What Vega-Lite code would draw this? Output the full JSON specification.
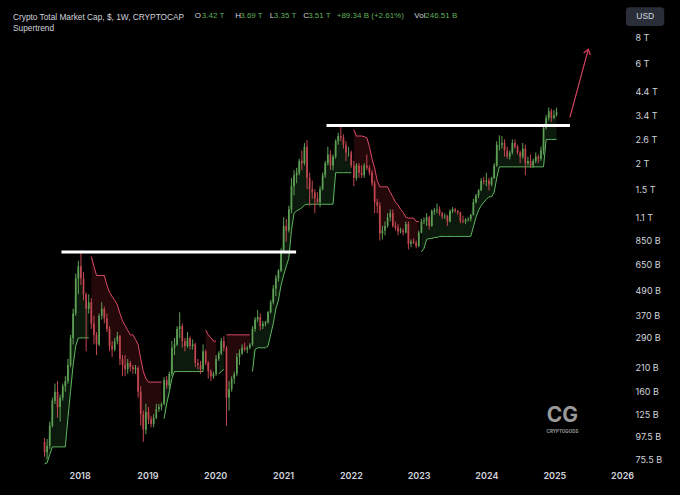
{
  "$schema": "https://vega.github.io/schema/vega-lite/v6.json",
  "width": 628,
  "height": 432,
  "autosize": {"type": "none"},
  "padding": {"left": 0, "top": 35, "right": 52, "bottom": 28},
  "background": "#000000",
  "title": {
    "text": "Crypto Total Market Cap, $, 1W, CRYPTOCAP",
    "subtitle": "Supertrend",
    "anchor": "start",
    "frame": "group",
    "dx": 13,
    "offset": -25,
    "font": "Liberation Sans",
    "fontSize": 8.3,
    "fontWeight": "normal",
    "color": "#d1d4dc",
    "subtitleFont": "Liberation Sans",
    "subtitleFontSize": 8.3,
    "subtitleColor": "#d1d4dc",
    "subtitlePadding": 2.5
  },
  "config": {"view": {"stroke": null}},
  "datasets": {
    "candles": [
      {"d":"2017-06-26","o":92,"h":96,"l":78,"c":82,"st":72,"seg":1,"dir":"up"},
      {"d":"2017-07-10","o":82,"h":95,"l":76,"c":88,"st":73,"seg":1,"dir":"up"},
      {"d":"2017-07-24","o":88,"h":115,"l":85,"c":110,"st":80,"seg":1,"dir":"up"},
      {"d":"2017-08-07","o":110,"h":150,"l":108,"c":145,"st":87,"seg":1,"dir":"up"},
      {"d":"2017-08-21","o":145,"h":175,"l":140,"c":160,"st":87,"seg":1,"dir":"up"},
      {"d":"2017-09-04","o":160,"h":180,"l":120,"c":135,"st":87,"seg":1,"dir":"up"},
      {"d":"2017-09-18","o":135,"h":155,"l":115,"c":150,"st":87,"seg":1,"dir":"up"},
      {"d":"2017-10-02","o":150,"h":175,"l":145,"c":170,"st":87,"seg":1,"dir":"up"},
      {"d":"2017-10-16","o":170,"h":190,"l":160,"c":180,"st":87,"seg":1,"dir":"up"},
      {"d":"2017-10-30","o":180,"h":230,"l":175,"c":215,"st":120,"seg":1,"dir":"up"},
      {"d":"2017-11-13","o":215,"h":300,"l":210,"c":290,"st":160,"seg":1,"dir":"up"},
      {"d":"2017-11-27","o":290,"h":400,"l":270,"c":380,"st":215,"seg":1,"dir":"up"},
      {"d":"2017-12-11","o":380,"h":590,"l":370,"c":560,"st":265,"seg":1,"dir":"up"},
      {"d":"2017-12-25","o":560,"h":680,"l":470,"c":640,"st":290,"seg":1,"dir":"up"},
      {"d":"2018-01-08","o":640,"h":760,"l":520,"c":560,"st":290,"seg":1,"dir":"up"},
      {"d":"2018-01-22","o":560,"h":600,"l":440,"c":470,"st":290,"seg":1,"dir":"up"},
      {"d":"2018-02-05","o":470,"h":480,"l":250,"c":400,"st":290,"seg":1,"dir":"up"},
      {"d":"2018-02-19","o":400,"h":470,"l":380,"c":430,"st":290,"seg":1,"dir":"up"},
      {"d":"2018-03-05","o":430,"h":450,"l":320,"c":340,"st":713,"seg":2,"dir":"down"},
      {"d":"2018-03-19","o":340,"h":370,"l":270,"c":300,"st":640,"seg":2,"dir":"down"},
      {"d":"2018-04-02","o":300,"h":310,"l":240,"c":270,"st":578,"seg":2,"dir":"down"},
      {"d":"2018-04-16","o":270,"h":380,"l":265,"c":370,"st":578,"seg":2,"dir":"down"},
      {"d":"2018-04-30","o":370,"h":430,"l":355,"c":400,"st":578,"seg":2,"dir":"down"},
      {"d":"2018-05-14","o":400,"h":410,"l":340,"c":360,"st":578,"seg":2,"dir":"down"},
      {"d":"2018-05-28","o":360,"h":380,"l":310,"c":320,"st":520,"seg":2,"dir":"down"},
      {"d":"2018-06-11","o":320,"h":330,"l":250,"c":265,"st":480,"seg":2,"dir":"down"},
      {"d":"2018-06-25","o":265,"h":280,"l":235,"c":255,"st":458,"seg":2,"dir":"down"},
      {"d":"2018-07-09","o":255,"h":290,"l":250,"c":280,"st":440,"seg":2,"dir":"down"},
      {"d":"2018-07-23","o":280,"h":310,"l":270,"c":295,"st":418,"seg":2,"dir":"down"},
      {"d":"2018-08-06","o":295,"h":300,"l":215,"c":230,"st":380,"seg":2,"dir":"down"},
      {"d":"2018-08-20","o":230,"h":240,"l":190,"c":215,"st":350,"seg":2,"dir":"down"},
      {"d":"2018-09-03","o":215,"h":240,"l":190,"c":205,"st":333,"seg":2,"dir":"down"},
      {"d":"2018-09-17","o":205,"h":230,"l":195,"c":220,"st":315,"seg":2,"dir":"down"},
      {"d":"2018-10-01","o":220,"h":225,"l":200,"c":210,"st":300,"seg":2,"dir":"down"},
      {"d":"2018-10-15","o":210,"h":215,"l":195,"c":205,"st":300,"seg":2,"dir":"down"},
      {"d":"2018-10-29","o":205,"h":215,"l":195,"c":208,"st":285,"seg":2,"dir":"down"},
      {"d":"2018-11-12","o":208,"h":212,"l":150,"c":160,"st":270,"seg":2,"dir":"down"},
      {"d":"2018-11-26","o":160,"h":170,"l":110,"c":125,"st":230,"seg":2,"dir":"down"},
      {"d":"2018-12-10","o":125,"h":130,"l":92,"c":105,"st":200,"seg":2,"dir":"down"},
      {"d":"2018-12-24","o":105,"h":140,"l":100,"c":128,"st":185,"seg":2,"dir":"down"},
      {"d":"2019-01-07","o":128,"h":135,"l":112,"c":118,"st":178,"seg":2,"dir":"down"},
      {"d":"2019-01-21","o":118,"h":122,"l":108,"c":112,"st":178,"seg":2,"dir":"down"},
      {"d":"2019-02-04","o":112,"h":125,"l":108,"c":120,"st":178,"seg":2,"dir":"down"},
      {"d":"2019-02-18","o":120,"h":140,"l":118,"c":132,"st":178,"seg":2,"dir":"down"},
      {"d":"2019-03-04","o":132,"h":140,"l":128,"c":135,"st":178,"seg":2,"dir":"down"},
      {"d":"2019-03-18","o":135,"h":142,"l":130,"c":140,"st":178,"seg":2,"dir":"down"},
      {"d":"2019-04-01","o":140,"h":188,"l":138,"c":182,"st":119,"seg":3,"dir":"up"},
      {"d":"2019-04-15","o":182,"h":190,"l":165,"c":172,"st":140,"seg":3,"dir":"up"},
      {"d":"2019-04-29","o":172,"h":200,"l":165,"c":195,"st":160,"seg":3,"dir":"up"},
      {"d":"2019-05-13","o":195,"h":280,"l":190,"c":260,"st":185,"seg":3,"dir":"up"},
      {"d":"2019-05-27","o":260,"h":290,"l":240,"c":270,"st":200,"seg":3,"dir":"up"},
      {"d":"2019-06-10","o":270,"h":330,"l":265,"c":320,"st":200,"seg":3,"dir":"up"},
      {"d":"2019-06-24","o":320,"h":385,"l":290,"c":330,"st":200,"seg":3,"dir":"up"},
      {"d":"2019-07-08","o":330,"h":340,"l":260,"c":280,"st":200,"seg":3,"dir":"up"},
      {"d":"2019-07-22","o":280,"h":290,"l":250,"c":265,"st":200,"seg":3,"dir":"up"},
      {"d":"2019-08-05","o":265,"h":310,"l":260,"c":290,"st":200,"seg":3,"dir":"up"},
      {"d":"2019-08-19","o":290,"h":295,"l":255,"c":265,"st":200,"seg":3,"dir":"up"},
      {"d":"2019-09-02","o":265,"h":285,"l":255,"c":270,"st":200,"seg":3,"dir":"up"},
      {"d":"2019-09-16","o":270,"h":275,"l":210,"c":220,"st":200,"seg":3,"dir":"up"},
      {"d":"2019-09-30","o":220,"h":230,"l":205,"c":215,"st":200,"seg":3,"dir":"up"},
      {"d":"2019-10-14","o":215,"h":225,"l":195,"c":205,"st":200,"seg":3,"dir":"up"},
      {"d":"2019-10-28","o":205,"h":270,"l":200,"c":250,"st":200,"seg":3,"dir":"up"},
      {"d":"2019-11-11","o":250,"h":255,"l":215,"c":220,"st":316,"seg":4,"dir":"down"},
      {"d":"2019-11-25","o":220,"h":225,"l":185,"c":200,"st":300,"seg":4,"dir":"down"},
      {"d":"2019-12-09","o":200,"h":205,"l":180,"c":190,"st":290,"seg":4,"dir":"down"},
      {"d":"2019-12-23","o":190,"h":200,"l":185,"c":195,"st":280,"seg":4,"dir":"down"},
      {"d":"2020-01-06","o":195,"h":240,"l":190,"c":230,"st":280,"seg":4,"dir":"down"},
      {"d":"2020-01-20","o":230,"h":250,"l":225,"c":245,"st":195,"seg":5,"dir":"up"},
      {"d":"2020-02-03","o":245,"h":290,"l":240,"c":280,"st":200,"seg":5,"dir":"up"},
      {"d":"2020-02-17","o":280,"h":295,"l":250,"c":260,"st":205,"seg":5,"dir":"up"},
      {"d":"2020-03-02","o":260,"h":265,"l":110,"c":150,"st":300,"seg":6,"dir":"down"},
      {"d":"2020-03-16","o":150,"h":180,"l":130,"c":165,"st":300,"seg":6,"dir":"down"},
      {"d":"2020-03-30","o":165,"h":190,"l":160,"c":185,"st":300,"seg":6,"dir":"down"},
      {"d":"2020-04-13","o":185,"h":200,"l":175,"c":195,"st":300,"seg":6,"dir":"down"},
      {"d":"2020-04-27","o":195,"h":245,"l":190,"c":235,"st":300,"seg":6,"dir":"down"},
      {"d":"2020-05-11","o":235,"h":255,"l":215,"c":245,"st":300,"seg":6,"dir":"down"},
      {"d":"2020-05-25","o":245,"h":270,"l":240,"c":260,"st":300,"seg":6,"dir":"down"},
      {"d":"2020-06-08","o":260,"h":275,"l":250,"c":255,"st":300,"seg":6,"dir":"down"},
      {"d":"2020-06-22","o":255,"h":265,"l":245,"c":260,"st":300,"seg":6,"dir":"down"},
      {"d":"2020-07-06","o":260,"h":275,"l":255,"c":270,"st":300,"seg":6,"dir":"down"},
      {"d":"2020-07-20","o":270,"h":330,"l":265,"c":320,"st":200,"seg":7,"dir":"up"},
      {"d":"2020-08-03","o":320,"h":365,"l":310,"c":355,"st":255,"seg":7,"dir":"up"},
      {"d":"2020-08-17","o":355,"h":395,"l":345,"c":365,"st":260,"seg":7,"dir":"up"},
      {"d":"2020-08-31","o":365,"h":380,"l":315,"c":330,"st":260,"seg":7,"dir":"up"},
      {"d":"2020-09-14","o":330,"h":350,"l":320,"c":340,"st":260,"seg":7,"dir":"up"},
      {"d":"2020-09-28","o":340,"h":350,"l":330,"c":345,"st":260,"seg":7,"dir":"up"},
      {"d":"2020-10-12","o":345,"h":390,"l":340,"c":385,"st":265,"seg":7,"dir":"up"},
      {"d":"2020-10-26","o":385,"h":440,"l":380,"c":430,"st":300,"seg":7,"dir":"up"},
      {"d":"2020-11-09","o":430,"h":520,"l":420,"c":500,"st":340,"seg":7,"dir":"up"},
      {"d":"2020-11-23","o":500,"h":580,"l":460,"c":560,"st":400,"seg":7,"dir":"up"},
      {"d":"2020-12-07","o":560,"h":620,"l":540,"c":610,"st":440,"seg":7,"dir":"up"},
      {"d":"2020-12-21","o":610,"h":780,"l":600,"c":760,"st":520,"seg":7,"dir":"up"},
      {"d":"2021-01-04","o":760,"h":1100,"l":740,"c":1000,"st":580,"seg":7,"dir":"up"},
      {"d":"2021-01-18","o":1000,"h":1080,"l":840,"c":950,"st":640,"seg":7,"dir":"up"},
      {"d":"2021-02-01","o":950,"h":1250,"l":930,"c":1200,"st":700,"seg":7,"dir":"up"},
      {"d":"2021-02-15","o":1200,"h":1700,"l":1150,"c":1550,"st":950,"seg":7,"dir":"up"},
      {"d":"2021-03-01","o":1550,"h":1850,"l":1400,"c":1750,"st":1150,"seg":7,"dir":"up"},
      {"d":"2021-03-15","o":1750,"h":1900,"l":1600,"c":1800,"st":1180,"seg":7,"dir":"up"},
      {"d":"2021-03-29","o":1800,"h":2100,"l":1750,"c":2050,"st":1200,"seg":7,"dir":"up"},
      {"d":"2021-04-12","o":2050,"h":2300,"l":1850,"c":2000,"st":1220,"seg":7,"dir":"up"},
      {"d":"2021-04-26","o":2000,"h":2500,"l":1950,"c":2400,"st":1260,"seg":7,"dir":"up"},
      {"d":"2021-05-10","o":2400,"h":2580,"l":1500,"c":1700,"st":1270,"seg":7,"dir":"up"},
      {"d":"2021-05-24","o":1700,"h":1800,"l":1250,"c":1500,"st":1270,"seg":7,"dir":"up"},
      {"d":"2021-06-07","o":1500,"h":1650,"l":1350,"c":1450,"st":1270,"seg":7,"dir":"up"},
      {"d":"2021-06-21","o":1450,"h":1500,"l":1150,"c":1350,"st":1270,"seg":7,"dir":"up"},
      {"d":"2021-07-05","o":1350,"h":1450,"l":1280,"c":1300,"st":1270,"seg":7,"dir":"up"},
      {"d":"2021-07-19","o":1300,"h":1550,"l":1230,"c":1500,"st":1270,"seg":7,"dir":"up"},
      {"d":"2021-08-02","o":1500,"h":1800,"l":1480,"c":1750,"st":1270,"seg":7,"dir":"up"},
      {"d":"2021-08-16","o":1750,"h":2050,"l":1700,"c":2000,"st":1270,"seg":7,"dir":"up"},
      {"d":"2021-08-30","o":2000,"h":2400,"l":1950,"c":2200,"st":1270,"seg":7,"dir":"up"},
      {"d":"2021-09-13","o":2200,"h":2300,"l":1850,"c":1950,"st":1270,"seg":7,"dir":"up"},
      {"d":"2021-09-27","o":1950,"h":2200,"l":1850,"c":2150,"st":1270,"seg":7,"dir":"up"},
      {"d":"2021-10-11","o":2150,"h":2600,"l":2100,"c":2550,"st":1800,"seg":7,"dir":"up"},
      {"d":"2021-10-25","o":2550,"h":2800,"l":2450,"c":2700,"st":1800,"seg":7,"dir":"up"},
      {"d":"2021-11-08","o":2700,"h":3030,"l":2550,"c":2650,"st":1800,"seg":7,"dir":"up"},
      {"d":"2021-11-22","o":2650,"h":2750,"l":2350,"c":2450,"st":1800,"seg":7,"dir":"up"},
      {"d":"2021-12-06","o":2450,"h":2550,"l":2050,"c":2250,"st":1800,"seg":7,"dir":"up"},
      {"d":"2021-12-20","o":2250,"h":2400,"l":2150,"c":2250,"st":1800,"seg":7,"dir":"up"},
      {"d":"2022-01-03","o":2250,"h":2300,"l":1900,"c":1950,"st":1800,"seg":7,"dir":"up"},
      {"d":"2022-01-17","o":1950,"h":2050,"l":1550,"c":1700,"st":2900,"seg":8,"dir":"down"},
      {"d":"2022-01-31","o":1700,"h":2000,"l":1650,"c":1950,"st":2700,"seg":8,"dir":"down"},
      {"d":"2022-02-14","o":1950,"h":2000,"l":1700,"c":1800,"st":2700,"seg":8,"dir":"down"},
      {"d":"2022-02-28","o":1800,"h":1950,"l":1700,"c":1750,"st":2700,"seg":8,"dir":"down"},
      {"d":"2022-03-14","o":1750,"h":2000,"l":1700,"c":1950,"st":2680,"seg":8,"dir":"down"},
      {"d":"2022-03-28","o":1950,"h":2200,"l":1850,"c":1900,"st":2650,"seg":8,"dir":"down"},
      {"d":"2022-04-11","o":1900,"h":1950,"l":1750,"c":1800,"st":2400,"seg":8,"dir":"down"},
      {"d":"2022-04-25","o":1800,"h":1850,"l":1550,"c":1600,"st":2100,"seg":8,"dir":"down"},
      {"d":"2022-05-09","o":1600,"h":1650,"l":1150,"c":1300,"st":1900,"seg":8,"dir":"down"},
      {"d":"2022-05-23","o":1300,"h":1350,"l":1150,"c":1250,"st":1650,"seg":8,"dir":"down"},
      {"d":"2022-06-06","o":1250,"h":1300,"l":850,"c":920,"st":1540,"seg":8,"dir":"down"},
      {"d":"2022-06-20","o":920,"h":1000,"l":860,"c":950,"st":1540,"seg":8,"dir":"down"},
      {"d":"2022-07-04","o":950,"h":1050,"l":900,"c":1000,"st":1540,"seg":8,"dir":"down"},
      {"d":"2022-07-18","o":1000,"h":1150,"l":980,"c":1100,"st":1540,"seg":8,"dir":"down"},
      {"d":"2022-08-01","o":1100,"h":1200,"l":1050,"c":1150,"st":1450,"seg":8,"dir":"down"},
      {"d":"2022-08-15","o":1150,"h":1200,"l":980,"c":1000,"st":1380,"seg":8,"dir":"down"},
      {"d":"2022-08-29","o":1000,"h":1050,"l":950,"c":980,"st":1300,"seg":8,"dir":"down"},
      {"d":"2022-09-12","o":980,"h":1020,"l":900,"c":940,"st":1260,"seg":8,"dir":"down"},
      {"d":"2022-09-26","o":940,"h":980,"l":920,"c":950,"st":1200,"seg":8,"dir":"down"},
      {"d":"2022-10-10","o":950,"h":970,"l":900,"c":930,"st":1160,"seg":8,"dir":"down"},
      {"d":"2022-10-24","o":930,"h":1050,"l":920,"c":1020,"st":1100,"seg":8,"dir":"down"},
      {"d":"2022-11-07","o":1020,"h":1050,"l":770,"c":820,"st":1090,"seg":8,"dir":"down"},
      {"d":"2022-11-21","o":820,"h":860,"l":790,"c":840,"st":1090,"seg":8,"dir":"down"},
      {"d":"2022-12-05","o":840,"h":870,"l":820,"c":830,"st":1090,"seg":8,"dir":"down"},
      {"d":"2022-12-19","o":830,"h":850,"l":780,"c":800,"st":1050,"seg":8,"dir":"down"},
      {"d":"2023-01-02","o":800,"h":950,"l":790,"c":930,"st":1050,"seg":8,"dir":"down"},
      {"d":"2023-01-16","o":930,"h":1080,"l":920,"c":1050,"st":750,"seg":9,"dir":"up"},
      {"d":"2023-01-30","o":1050,"h":1100,"l":1020,"c":1060,"st":780,"seg":9,"dir":"up"},
      {"d":"2023-02-13","o":1060,"h":1150,"l":1000,"c":1100,"st":860,"seg":9,"dir":"up"},
      {"d":"2023-02-27","o":1100,"h":1120,"l":960,"c":1000,"st":870,"seg":9,"dir":"up"},
      {"d":"2023-03-13","o":1000,"h":1200,"l":990,"c":1180,"st":870,"seg":9,"dir":"up"},
      {"d":"2023-03-27","o":1180,"h":1220,"l":1130,"c":1190,"st":880,"seg":9,"dir":"up"},
      {"d":"2023-04-10","o":1190,"h":1280,"l":1150,"c":1200,"st":880,"seg":9,"dir":"up"},
      {"d":"2023-04-24","o":1200,"h":1240,"l":1120,"c":1150,"st":890,"seg":9,"dir":"up"},
      {"d":"2023-05-08","o":1150,"h":1170,"l":1080,"c":1110,"st":890,"seg":9,"dir":"up"},
      {"d":"2023-05-22","o":1110,"h":1150,"l":1080,"c":1120,"st":890,"seg":9,"dir":"up"},
      {"d":"2023-06-05","o":1120,"h":1130,"l":1000,"c":1050,"st":890,"seg":9,"dir":"up"},
      {"d":"2023-06-19","o":1050,"h":1200,"l":1040,"c":1180,"st":890,"seg":9,"dir":"up"},
      {"d":"2023-07-03","o":1180,"h":1230,"l":1150,"c":1200,"st":890,"seg":9,"dir":"up"},
      {"d":"2023-07-17","o":1200,"h":1220,"l":1160,"c":1180,"st":890,"seg":9,"dir":"up"},
      {"d":"2023-07-31","o":1180,"h":1190,"l":1130,"c":1160,"st":890,"seg":9,"dir":"up"},
      {"d":"2023-08-14","o":1160,"h":1170,"l":1030,"c":1060,"st":890,"seg":9,"dir":"up"},
      {"d":"2023-08-28","o":1060,"h":1120,"l":1030,"c":1050,"st":890,"seg":9,"dir":"up"},
      {"d":"2023-09-11","o":1050,"h":1090,"l":1020,"c":1070,"st":890,"seg":9,"dir":"up"},
      {"d":"2023-09-25","o":1070,"h":1100,"l":1050,"c":1080,"st":890,"seg":9,"dir":"up"},
      {"d":"2023-10-09","o":1080,"h":1140,"l":1050,"c":1130,"st":890,"seg":9,"dir":"up"},
      {"d":"2023-10-23","o":1130,"h":1350,"l":1120,"c":1300,"st":990,"seg":9,"dir":"up"},
      {"d":"2023-11-06","o":1300,"h":1420,"l":1280,"c":1400,"st":1100,"seg":9,"dir":"up"},
      {"d":"2023-11-20","o":1400,"h":1500,"l":1360,"c":1480,"st":1190,"seg":9,"dir":"up"},
      {"d":"2023-12-04","o":1480,"h":1700,"l":1470,"c":1650,"st":1250,"seg":9,"dir":"up"},
      {"d":"2023-12-18","o":1650,"h":1720,"l":1580,"c":1630,"st":1300,"seg":9,"dir":"up"},
      {"d":"2024-01-01","o":1630,"h":1800,"l":1550,"c":1650,"st":1340,"seg":9,"dir":"up"},
      {"d":"2024-01-15","o":1650,"h":1700,"l":1480,"c":1580,"st":1380,"seg":9,"dir":"up"},
      {"d":"2024-01-29","o":1580,"h":1720,"l":1550,"c":1700,"st":1380,"seg":9,"dir":"up"},
      {"d":"2024-02-12","o":1700,"h":2000,"l":1680,"c":1950,"st":1450,"seg":9,"dir":"up"},
      {"d":"2024-02-26","o":1950,"h":2550,"l":1920,"c":2450,"st":1700,"seg":9,"dir":"up"},
      {"d":"2024-03-11","o":2450,"h":2720,"l":2300,"c":2450,"st":1920,"seg":9,"dir":"up"},
      {"d":"2024-03-25","o":2450,"h":2700,"l":2350,"c":2500,"st":1920,"seg":9,"dir":"up"},
      {"d":"2024-04-08","o":2500,"h":2600,"l":2150,"c":2300,"st":1920,"seg":9,"dir":"up"},
      {"d":"2024-04-22","o":2300,"h":2400,"l":2100,"c":2150,"st":1920,"seg":9,"dir":"up"},
      {"d":"2024-05-06","o":2150,"h":2300,"l":2080,"c":2250,"st":1920,"seg":9,"dir":"up"},
      {"d":"2024-05-20","o":2250,"h":2600,"l":2200,"c":2500,"st":1920,"seg":9,"dir":"up"},
      {"d":"2024-06-03","o":2500,"h":2600,"l":2350,"c":2400,"st":1920,"seg":9,"dir":"up"},
      {"d":"2024-06-17","o":2400,"h":2450,"l":2200,"c":2250,"st":1920,"seg":9,"dir":"up"},
      {"d":"2024-07-01","o":2250,"h":2300,"l":2000,"c":2150,"st":1920,"seg":9,"dir":"up"},
      {"d":"2024-07-15","o":2150,"h":2500,"l":2100,"c":2350,"st":1920,"seg":9,"dir":"up"},
      {"d":"2024-07-29","o":2350,"h":2450,"l":1750,"c":2000,"st":1920,"seg":9,"dir":"up"},
      {"d":"2024-08-12","o":2000,"h":2150,"l":1950,"c":2050,"st":1920,"seg":9,"dir":"up"},
      {"d":"2024-08-26","o":2050,"h":2200,"l":1900,"c":1950,"st":1920,"seg":9,"dir":"up"},
      {"d":"2024-09-09","o":1950,"h":2100,"l":1900,"c":2050,"st":1920,"seg":9,"dir":"up"},
      {"d":"2024-09-23","o":2050,"h":2250,"l":2000,"c":2150,"st":1920,"seg":9,"dir":"up"},
      {"d":"2024-10-07","o":2150,"h":2200,"l":2000,"c":2100,"st":1920,"seg":9,"dir":"up"},
      {"d":"2024-10-21","o":2100,"h":2400,"l":2050,"c":2300,"st":1920,"seg":9,"dir":"up"},
      {"d":"2024-11-04","o":2300,"h":3000,"l":2200,"c":2950,"st":1920,"seg":9,"dir":"up"},
      {"d":"2024-11-18","o":2950,"h":3400,"l":2900,"c":3300,"st":2600,"seg":9,"dir":"up"},
      {"d":"2024-12-02","o":3300,"h":3700,"l":3200,"c":3550,"st":2600,"seg":9,"dir":"up"},
      {"d":"2024-12-16","o":3550,"h":3650,"l":3150,"c":3300,"st":2600,"seg":9,"dir":"up"},
      {"d":"2024-12-30","o":3300,"h":3600,"l":3250,"c":3400,"st":2600,"seg":9,"dir":"up"},
      {"d":"2025-01-13","o":3420,"h":3690,"l":3350,"c":3510,"st":2600,"seg":9,"dir":"up"}
    ],
    "levels": [
      {"start":"2017-09-25","end":"2021-03-12","v":749},
      {"start":"2021-08-23","end":"2025-03-26","v":3032}
    ],
    "arrow": [
      {"d":"2025-03-26","v":3320,"part":"shaft","k":0},
      {"d":"2025-07-03","v":7038,"part":"shaft","k":1},
      {"d":"2025-06-08","v":6749,"part":"head","k":0},
      {"d":"2025-07-03","v":7038,"part":"head","k":1},
      {"d":"2025-07-14","v":6608,"part":"head","k":2}
    ]
  },
  "data": {"name": "candles"},
  "layer": [
    {
      "mark": {"type": "area", "opacity": 0.15},
      "encoding": {
        "x": {
          "field": "d", "type": "temporal", "title": null,
          "scale": {"type": "utc", "domain": [{"year": 2016, "month": 11, "date": 25, "utc": true}, {"year": 2026, "month": 1, "date": 6, "utc": true}]},
          "axis": {
            "orient": "bottom", "grid": false, "ticks": false, "domain": false,
            "tickCount": {"interval": "year", "step": 1},
            "labelExpr": "utcyear(datum.value) < 2018 ? '' : utcFormat(datum.value, '%Y')",
            "labelColor": "#d1d4dc", "labelFont": "Inter", "labelFontSize": 9, "labelFontWeight": 600,
            "labelPadding": 4, "labelFlush": false, "labelOverlap": false
          }
        },
        "y": {
          "field": "st", "type": "quantitative", "title": null,
          "scale": {"type": "log", "domain": [69.66, 8242], "nice": false},
          "axis": {
            "orient": "right", "grid": false, "ticks": false, "domain": false,
            "values": [75.5, 97.5, 125, 160, 210, 290, 370, 490, 650, 850, 1100, 1500, 2000, 2600, 3400, 4400, 6000, 8000],
            "labelExpr": "datum.value >= 1000 ? (datum.value / 1000) + ' T' : datum.value + ' B'",
            "labelColor": "#d1d4dc", "labelFont": "Inter", "labelFontSize": 9,
            "labelPadding": 7, "labelAlign": "left", "labelBaseline": "middle"
          }
        },
        "y2": {"field": "c"},
        "detail": {"field": "seg", "type": "nominal"},
        "color": {"condition": {"test": "datum.dir == 'up'", "value": "#4caf50"}, "value": "#f23645"}
      }
    },
    {
      "mark": {"type": "line", "strokeWidth": 1},
      "encoding": {
        "x": {"field": "d", "type": "temporal", "title": null},
        "y": {"field": "st", "type": "quantitative", "title": null, "scale": {"type": "log"}},
        "detail": {"field": "seg", "type": "nominal"},
        "color": {"condition": {"test": "datum.dir == 'up'", "value": "#5fb65f"}, "value": "#dd4a66"}
      }
    },
    {
      "mark": {"type": "rule", "strokeWidth": 1},
      "encoding": {
        "x": {"field": "d", "type": "temporal", "title": null},
        "y": {"field": "l", "type": "quantitative", "title": null, "scale": {"type": "log"}},
        "y2": {"field": "h"},
        "color": {"condition": {"test": "datum.c >= datum.o", "value": "#5e9f55"}, "value": "#c0474f"}
      }
    },
    {
      "mark": {"type": "bar", "width": 1.7},
      "encoding": {
        "x": {"field": "d", "type": "temporal", "title": null},
        "y": {"field": "o", "type": "quantitative", "title": null, "scale": {"type": "log"}},
        "y2": {"field": "c"},
        "color": {"condition": {"test": "datum.c >= datum.o", "value": "#5e9f55"}, "value": "#c0474f"}
      }
    },
    {
      "data": {"name": "levels"},
      "mark": {"type": "rule", "strokeWidth": 3, "color": "#ffffff"},
      "encoding": {
        "x": {"field": "start", "type": "temporal", "title": null},
        "x2": {"field": "end"},
        "y": {"field": "v", "type": "quantitative", "title": null, "scale": {"type": "log"}}
      }
    },
    {
      "data": {"name": "arrow"},
      "mark": {"type": "line", "strokeWidth": 1.2, "color": "#d6415e"},
      "encoding": {
        "x": {"field": "d", "type": "temporal", "title": null},
        "y": {"field": "v", "type": "quantitative", "title": null, "scale": {"type": "log"}},
        "detail": {"field": "part", "type": "nominal"},
        "order": {"field": "k", "type": "quantitative"}
      }
    },
    {
      "data": {"values": [{}]},
      "mark": {"type": "text", "text": "CG", "font": "Inter", "fontSize": 21, "fontWeight": "bold", "color": "#9a9a9a", "align": "center", "baseline": "middle"},
      "encoding": {
        "x": {"datum": {"year": 2025, "month": 2, "date": 14, "utc": true}, "type": "temporal"},
        "y": {"datum": 123, "type": "quantitative"}
      }
    },
    {
      "data": {"values": [{}]},
      "mark": {"type": "text", "text": "CRYPTOGODS", "font": "Inter", "fontSize": 4.5, "fontWeight": "bold", "color": "#9a9a9a", "align": "center", "baseline": "middle"},
      "encoding": {
        "x": {"datum": {"year": 2025, "month": 2, "date": 14, "utc": true}, "type": "temporal"},
        "y": {"datum": 102.8, "type": "quantitative"}
      }
    },
    {
      "data": {"values": [{}]},
      "mark": {"type": "rect", "color": "#2a2e39", "cornerRadius": 3},
      "encoding": {
        "x": {"datum": {"year": 2026, "month": 1, "date": 22, "utc": true}, "type": "temporal"},
        "x2": {"datum": {"year": 2026, "month": 8, "date": 16, "utc": true}},
        "y": {"datum": 11194, "type": "quantitative"},
        "y2": {"datum": 9104}
      }
    },
    {
      "data": {"values": [{}]},
      "mark": {"type": "text", "text": "USD", "font": "Liberation Sans", "fontSize": 8.5, "color": "#d1d4dc", "align": "center", "baseline": "middle"},
      "encoding": {
        "x": {"datum": {"year": 2026, "month": 5, "date": 6, "utc": true}, "type": "temporal"},
        "y": {"datum": 10112, "type": "quantitative"}
      }
    },
    {
      "data": {"values": [{}]},
      "mark": {"type": "text", "text": "O", "font": "Liberation Sans", "fontSize": 8, "color": "#d1d4dc", "align": "left", "baseline": "middle"},
      "encoding": {
        "x": {"datum": {"year": 2019, "month": 9, "date": 13, "utc": true}, "type": "temporal"},
        "y": {"datum": 10168, "type": "quantitative"}
      }
    },
    {
      "data": {"values": [{}]},
      "mark": {"type": "text", "text": "3.42 T", "font": "Liberation Sans", "fontSize": 8, "color": "#5fae5a", "align": "left", "baseline": "middle"},
      "encoding": {
        "x": {"datum": {"year": 2019, "month": 10, "date": 21, "utc": true}, "type": "temporal"},
        "y": {"datum": 10168, "type": "quantitative"}
      }
    },
    {
      "data": {"values": [{}]},
      "mark": {"type": "text", "text": "H", "font": "Liberation Sans", "fontSize": 8, "color": "#d1d4dc", "align": "left", "baseline": "middle"},
      "encoding": {
        "x": {"datum": {"year": 2020, "month": 4, "date": 18, "utc": true}, "type": "temporal"},
        "y": {"datum": 10168, "type": "quantitative"}
      }
    },
    {
      "data": {"values": [{}]},
      "mark": {"type": "text", "text": "3.69 T", "font": "Liberation Sans", "fontSize": 8, "color": "#5fae5a", "align": "left", "baseline": "middle"},
      "encoding": {
        "x": {"datum": {"year": 2020, "month": 5, "date": 15, "utc": true}, "type": "temporal"},
        "y": {"datum": 10168, "type": "quantitative"}
      }
    },
    {
      "data": {"values": [{}]},
      "mark": {"type": "text", "text": "L", "font": "Liberation Sans", "fontSize": 8, "color": "#d1d4dc", "align": "left", "baseline": "middle"},
      "encoding": {
        "x": {"datum": {"year": 2020, "month": 10, "date": 21, "utc": true}, "type": "temporal"},
        "y": {"datum": 10168, "type": "quantitative"}
      }
    },
    {
      "data": {"values": [{}]},
      "mark": {"type": "text", "text": "3.35 T", "font": "Liberation Sans", "fontSize": 8, "color": "#5fae5a", "align": "left", "baseline": "middle"},
      "encoding": {
        "x": {"datum": {"year": 2020, "month": 11, "date": 12, "utc": true}, "type": "temporal"},
        "y": {"datum": 10168, "type": "quantitative"}
      }
    },
    {
      "data": {"values": [{}]},
      "mark": {"type": "text", "text": "C", "font": "Liberation Sans", "fontSize": 8, "color": "#d1d4dc", "align": "left", "baseline": "middle"},
      "encoding": {
        "x": {"datum": {"year": 2021, "month": 4, "date": 20, "utc": true}, "type": "temporal"},
        "y": {"datum": 10168, "type": "quantitative"}
      }
    },
    {
      "data": {"values": [{}]},
      "mark": {"type": "text", "text": "3.51 T", "font": "Liberation Sans", "fontSize": 8, "color": "#5fae5a", "align": "left", "baseline": "middle"},
      "encoding": {
        "x": {"datum": {"year": 2021, "month": 5, "date": 16, "utc": true}, "type": "temporal"},
        "y": {"datum": 10168, "type": "quantitative"}
      }
    },
    {
      "data": {"values": [{}]},
      "mark": {"type": "text", "text": "+89.34 B (+2.61%)", "font": "Liberation Sans", "fontSize": 8, "color": "#5fae5a", "align": "left", "baseline": "middle"},
      "encoding": {
        "x": {"datum": {"year": 2021, "month": 10, "date": 17, "utc": true}, "type": "temporal"},
        "y": {"datum": 10168, "type": "quantitative"}
      }
    },
    {
      "data": {"values": [{}]},
      "mark": {"type": "text", "text": "Vol", "font": "Liberation Sans", "fontSize": 8, "color": "#d1d4dc", "align": "left", "baseline": "middle"},
      "encoding": {
        "x": {"datum": {"year": 2022, "month": 12, "date": 9, "utc": true}, "type": "temporal"},
        "y": {"datum": 10168, "type": "quantitative"}
      }
    },
    {
      "data": {"values": [{}]},
      "mark": {"type": "text", "text": "246.51 B", "font": "Liberation Sans", "fontSize": 8, "color": "#5fae5a", "align": "left", "baseline": "middle"},
      "encoding": {
        "x": {"datum": {"year": 2023, "month": 2, "date": 6, "utc": true}, "type": "temporal"},
        "y": {"datum": 10168, "type": "quantitative"}
      }
    }
  ]
}
